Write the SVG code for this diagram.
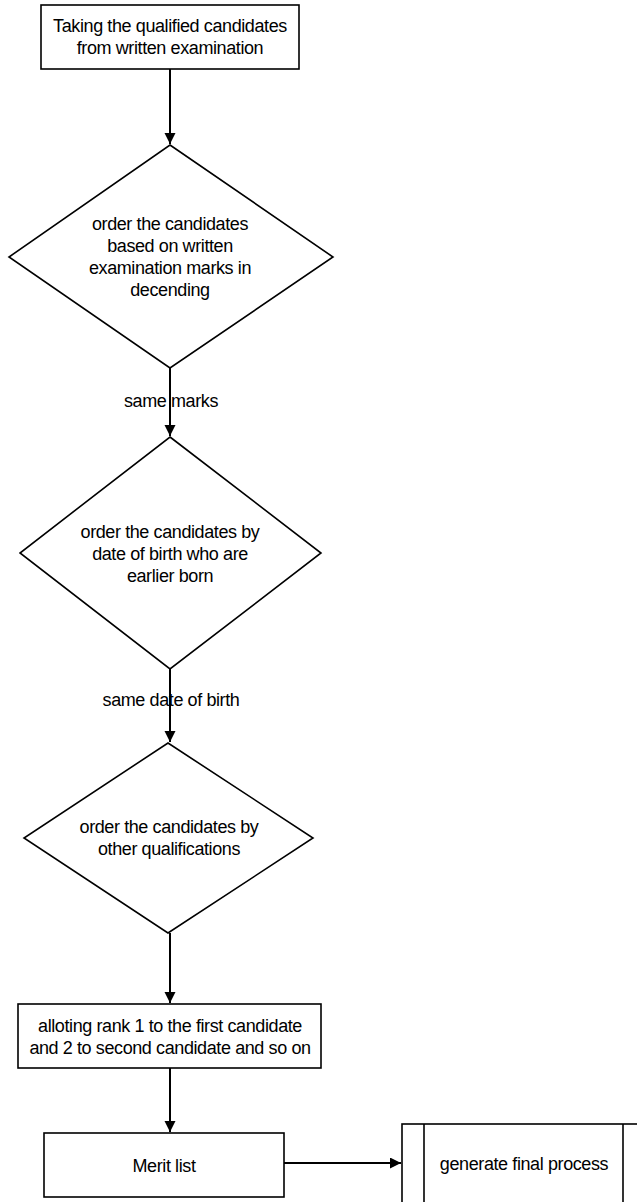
<svg xmlns="http://www.w3.org/2000/svg" width="637" height="1202" viewBox="0 0 637 1202">
<style>
.s{fill:#fff;stroke:#000;stroke-width:1.6}
.c{fill:none;stroke:#000;stroke-width:2}
text{font-family:"Liberation Sans",Arial,sans-serif;font-size:18px;letter-spacing:-0.4px;fill:#000;text-anchor:middle}
</style>
<defs>
<marker id="ah" markerUnits="userSpaceOnUse" markerWidth="12" markerHeight="12" refX="11" refY="5.5" orient="auto">
<path d="M0,0 L11,5.5 L0,11 z" fill="#000"/>
</marker>
</defs>
<rect width="637" height="1202" fill="#fff"/>
<g id="n1">
<rect class="s" x="41" y="5" width="258" height="64"/>
<text x="170" y="32">Taking the qualified candidates</text>
<text x="170" y="54">from written examination</text>
</g>
<g id="n2">
<polygon class="s" points="170,145 333,257 170,368 9,257"/>
<text x="170" y="230">order the candidates</text>
<text x="170" y="252">based on written</text>
<text x="170" y="274">examination marks in</text>
<text x="170" y="296">decending</text>
</g>
<g id="n3">
<polygon class="s" points="170,437 321,553 170,669 20,553"/>
<text x="170" y="538">order the candidates by</text>
<text x="170" y="560">date of birth who are</text>
<text x="170" y="582">earlier born</text>
</g>
<g id="n4">
<polygon class="s" points="168,743 313,838 168,933 24,838"/>
<text x="169" y="833">order the candidates by</text>
<text x="169" y="855">other qualifications</text>
</g>
<g id="n5">
<rect class="s" x="18" y="1004" width="303" height="64"/>
<text x="170" y="1032">alloting rank 1 to the first candidate</text>
<text x="170" y="1054">and 2 to second candidate and so on</text>
</g>
<g id="n6">
<rect class="s" x="44" y="1133" width="240" height="64"/>
<text x="164" y="1172">Merit list</text>
</g>
<g id="n7">
<rect class="s" x="402" y="1124" width="243" height="82"/>
<line class="s" x1="424" y1="1124" x2="424" y2="1206"/>
<line class="s" x1="623" y1="1124" x2="623" y2="1206"/>
<text x="524" y="1170">generate final process</text>
</g>
<g id="connectors">
<line class="c" x1="170" y1="69" x2="170" y2="144" marker-end="url(#ah)"/>
<text x="171" y="407">same marks</text>
<line class="c" x1="170" y1="368" x2="170" y2="436" marker-end="url(#ah)"/>
<text x="171" y="706">same date of birth</text>
<line class="c" x1="170" y1="669" x2="170" y2="742" marker-end="url(#ah)"/>
<line class="c" x1="170" y1="933" x2="170" y2="1003" marker-end="url(#ah)"/>
<line class="c" x1="170" y1="1068" x2="170" y2="1132" marker-end="url(#ah)"/>
<line class="c" x1="284" y1="1163" x2="401" y2="1163" marker-end="url(#ah)"/>
</g>
</svg>
